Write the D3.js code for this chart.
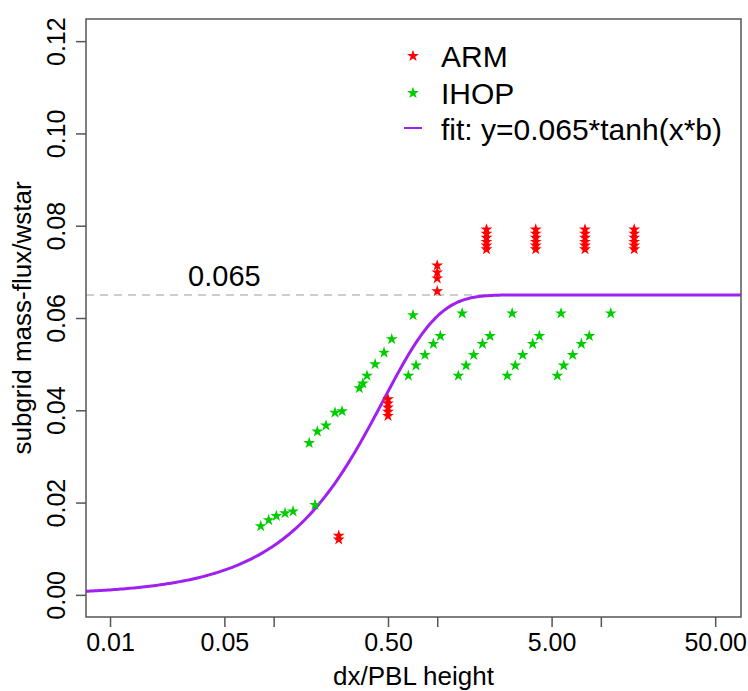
<!doctype html>
<html>
<head>
<script src="https://d3js.org/d3.v7.min.js"></script>
<style>
body { margin: 0; background: #fff; }
text { font-family: "Liberation Sans", Arial, Helvetica, sans-serif; }
</style>
</head>
<body>
<svg width="748" height="691"></svg>
<script>
// ARM points: x = dx/PBL height, y = mass-flux/wstar
var armX = [0.25, 0.25,
            0.5, 0.5, 0.5, 0.5, 0.5,
            1, 1, 1, 1,
            2, 2, 2, 2, 2, 2,
            4, 4, 4, 4, 4, 4,
            8, 8, 8, 8, 8, 8,
            16, 16, 16, 16, 16, 16];
var armY = [0.0128, 0.0120,
            0.0424, 0.0415, 0.0406, 0.0397, 0.0388,
            0.0714, 0.0699, 0.0686, 0.0658,
            0.0792, 0.0783, 0.0774, 0.0765, 0.0757, 0.0749,
            0.0792, 0.0783, 0.0774, 0.0765, 0.0757, 0.0749,
            0.0792, 0.0783, 0.0774, 0.0765, 0.0757, 0.0749,
            0.0792, 0.0783, 0.0774, 0.0765, 0.0757, 0.0749];

// IHOP points
var ihopX = [0.0834, 0.0933, 0.1039, 0.1174, 0.1314, 0.179,
             0.165, 0.185, 0.209, 0.237, 0.262,
             0.334, 0.351, 0.372, 0.417, 0.473, 0.527,
             0.711, 1.42, 2.87, 5.71, 11.5,
             0.666, 0.742, 0.841, 0.947, 1.045,
             1.346, 1.50, 1.67, 1.89, 2.10,
             2.68, 3.00, 3.33, 3.83, 4.21,
             5.42, 5.93, 6.73, 7.60, 8.50];
var ihopY = [0.0149, 0.0162, 0.0171, 0.0177, 0.0181, 0.0195,
             0.0329, 0.0354, 0.0367, 0.0395, 0.0398,
             0.0448, 0.0458, 0.0475, 0.0500, 0.0525, 0.0554,
             0.0606, 0.0610, 0.0610, 0.0610, 0.0610,
             0.0475, 0.0497, 0.0520, 0.0544, 0.0561,
             0.0475, 0.0497, 0.0520, 0.0544, 0.0561,
             0.0475, 0.0497, 0.0520, 0.0544, 0.0561,
             0.0475, 0.0497, 0.0520, 0.0544, 0.0561];

// fit: y = 0.065*tanh(x*b)
var fitA = 0.065, fitB = 1.65;

var xTicks = [0.01, 0.05, 0.1, 0.5, 1, 5, 10, 50];
var xTickLabels = ["0.01", "0.05", "", "0.50", "", "5.00", "", "50.00"];
var yTicks = [0, 0.02, 0.04, 0.06, 0.08, 0.10, 0.12];
var yTickLabels = ["0.00", "0.02", "0.04", "0.06", "0.08", "0.10", "0.12"];

var svg = d3.select("svg");
var pLeft = 86, pRight = 741, pTop = 19, pBottom = 617;

var x = d3.scaleLog().domain([0.00713, 71.9]).range([pLeft, pRight]);
var y = d3.scaleLinear().domain([-0.0048, 0.1248]).range([pBottom, pTop]);

// dashed reference line
svg.append("line")
    .attr("x1", pLeft).attr("x2", pRight)
    .attr("y1", y(fitA)).attr("y2", y(fitA))
    .attr("stroke", "#bdbdbd").attr("stroke-width", 1.6)
    .attr("stroke-dasharray", "8,6");

svg.append("text")
    .attr("x", x(0.05)).attr("y", y(0.069))
    .attr("text-anchor", "middle").attr("dominant-baseline", "central")
    .style("font-size", "29px")
    .text("0.065");

// fit curve
var lx = d3.range(0, 301).map(function(i) {
    return Math.pow(10, Math.log10(0.00713) + i / 300 * (Math.log10(71.9) - Math.log10(0.00713)));
});
var line = d3.line()
    .x(function(d) { return x(d); })
    .y(function(d) { return y(fitA * Math.tanh(d * fitB)); });
svg.append("path")
    .datum(lx)
    .attr("d", line)
    .attr("fill", "none")
    .attr("stroke", "#A020F0")
    .attr("stroke-width", 3);

var star = d3.symbol().type(d3.symbolStar).size(44);

svg.append("g").selectAll("path")
    .data(ihopX)
    .enter().append("path")
    .attr("d", star)
    .attr("transform", function(d, i) { return "translate(" + x(d) + "," + y(ihopY[i]) + ")"; })
    .attr("fill", "#00CD00");

svg.append("g").selectAll("path")
    .data(armX)
    .enter().append("path")
    .attr("d", star)
    .attr("transform", function(d, i) { return "translate(" + x(d) + "," + y(armY[i]) + ")"; })
    .attr("fill", "#FF0000");

// box
svg.append("rect")
    .attr("x", pLeft).attr("y", pTop)
    .attr("width", pRight - pLeft).attr("height", pBottom - pTop)
    .attr("fill", "none").attr("stroke", "#555").attr("stroke-width", 1.5);

// x axis
var xAxis = svg.append("g")
    .attr("transform", "translate(0," + pBottom + ")")
    .call(d3.axisBottom(x).tickValues(xTicks)
        .tickFormat(function(d, i) { return xTickLabels[i]; })
        .tickSize(10).tickPadding(6));
xAxis.select(".domain").remove();
xAxis.selectAll("line").attr("stroke", "#555").attr("stroke-width", 1.5);
xAxis.selectAll("text").style("font-size", "25px").attr("fill", "#000")
    .style("font-family", "'Liberation Sans', Arial, sans-serif");

// y axis
var yAxis = svg.append("g")
    .attr("transform", "translate(" + pLeft + ",0)")
    .call(d3.axisLeft(y).tickValues(yTicks)
        .tickFormat(function(d, i) { return yTickLabels[i]; })
        .tickSize(10));
yAxis.select(".domain").remove();
yAxis.selectAll("line").attr("stroke", "#555").attr("stroke-width", 1.5);
yAxis.selectAll("text")
    .attr("x", null).attr("dy", null)
    .attr("text-anchor", "middle")
    .attr("transform", "translate(-21,0) rotate(-90)")
    .style("font-size", "25px").attr("fill", "#000")
    .style("font-family", "'Liberation Sans', Arial, sans-serif");

// axis titles
svg.append("text")
    .attr("x", (pLeft + pRight) / 2).attr("y", 685)
    .attr("text-anchor", "middle")
    .style("font-size", "26px")
    .text("dx/PBL height");

svg.append("text")
    .attr("text-anchor", "middle")
    .attr("transform", "translate(31," + (pTop + pBottom) / 2 + ") rotate(-90)")
    .style("font-size", "26px")
    .text("subgrid mass-flux/wstar");

// legend
var legend = svg.append("g");
legend.append("path").attr("d", star).attr("transform", "translate(413,56)").attr("fill", "#FF0000");
legend.append("path").attr("d", star).attr("transform", "translate(413,93)").attr("fill", "#00CD00");
legend.append("line").attr("x1", 404).attr("x2", 422).attr("y1", 128).attr("y2", 128)
    .attr("stroke", "#A020F0").attr("stroke-width", 2);
var legendLabels = ["ARM", "IHOP", "fit: y=0.065*tanh(x*b)"];
legend.selectAll("text.lg")
    .data(legendLabels)
    .enter().append("text")
    .attr("class", "lg")
    .attr("x", 441)
    .attr("y", function(d, i) { return 67 + i * 36.5; })
    .style("font-size", "30px")
    .text(function(d) { return d; });
</script>
</body>
</html>
